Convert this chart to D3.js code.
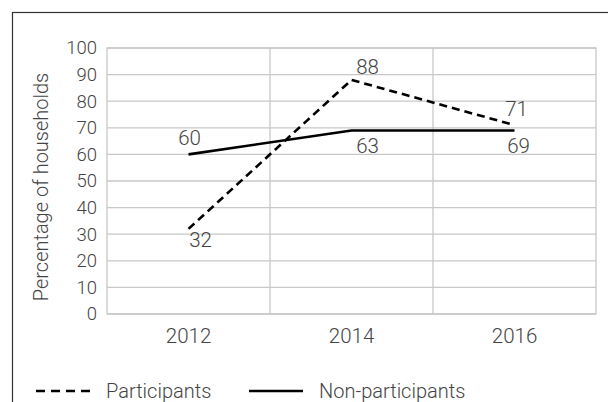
<!DOCTYPE html>
<html>
<head>
<meta charset="utf-8">
<script src="https://cdn.jsdelivr.net/npm/d3@7"></script>
<style>
  body { margin: 0; background: #fff; }
  text { font-family: Roboto, "Liberation Sans", sans-serif; font-weight: 300; fill: #444; }
</style>
</head>
<body>
<svg id="chart"></svg>
<script>
// data
let years = ["2012", "2014", "2016"];
let participants = [32, 88, 71];
let nonParticipants = [60, 69, 69];
let participantLabels = ["32", "88", "71"];
let nonParticipantLabels = ["60", "63", "69"];
let yTicks = d3.range(0, 101, 10);

let width = 608, height = 402;
let plot = { left: 107, right: 596, top: 48, bottom: 314 };

let svg = d3.select("#chart")
    .attr("width", width)
    .attr("height", height);

// outer frame, runs off the page on the right and bottom
svg.append("rect")
    .attr("x", 12.5).attr("y", 12.5)
    .attr("width", 700).attr("height", 500)
    .attr("fill", "none")
    .attr("stroke", "#333")
    .attr("stroke-width", 1.2);

let x = d3.scaleBand()
    .domain(years)
    .range([plot.left, plot.right]);

let y = d3.scaleLinear()
    .domain([0, 100])
    .range([plot.bottom, plot.top]);

// horizontal grid
svg.append("g")
    .selectAll("line")
    .data(yTicks)
    .enter()
    .append("line")
    .attr("x1", plot.left).attr("x2", plot.right)
    .attr("y1", d => y(d)).attr("y2", d => y(d))
    .attr("stroke", "#c8c8c8")
    .attr("stroke-width", 1.3);

// vertical band separators
svg.append("g")
    .selectAll("line")
    .data(years.slice(1))
    .enter()
    .append("line")
    .attr("x1", d => x(d)).attr("x2", d => x(d))
    .attr("y1", plot.top).attr("y2", plot.bottom)
    .attr("stroke", "#c8c8c8")
    .attr("stroke-width", 1.3);

svg.append("rect")
    .attr("x", plot.left).attr("y", plot.top)
    .attr("width", plot.right - plot.left)
    .attr("height", plot.bottom - plot.top)
    .attr("fill", "none")
    .attr("stroke", "#c8c8c8")
    .attr("stroke-width", 1.3);

// axes, only the labels are kept
let yAxis = svg.append("g")
    .attr("transform", "translate(" + plot.left + ",0)")
    .call(d3.axisLeft(y).tickValues(yTicks).tickSize(0).tickPadding(10));
yAxis.select(".domain").remove();
yAxis.selectAll("text")
    .attr("font-size", 18.5)
    .style("font-family", "Roboto, 'Liberation Sans', sans-serif")
    .attr("fill", "#444");

let xAxis = svg.append("g")
    .attr("transform", "translate(0," + plot.bottom + ")")
    .call(d3.axisBottom(x).tickSize(0).tickPadding(14));
xAxis.select(".domain").remove();
xAxis.selectAll("text")
    .attr("font-size", 20.5)
    .style("font-family", "Roboto, 'Liberation Sans', sans-serif")
    .attr("fill", "#444");

svg.append("text")
    .attr("transform", "translate(48,187)rotate(-90)")
    .attr("text-anchor", "middle")
    .attr("font-size", 20)
    .text("Percentage of households");

let line = d3.line()
    .x((d, i) => x(years[i]) + x.bandwidth() / 2)
    .y(d => y(d));

svg.append("path")
    .datum(nonParticipants)
    .attr("d", line)
    .attr("fill", "none")
    .attr("stroke", "#000")
    .attr("stroke-width", 2.6);

svg.append("path")
    .datum(participants)
    .attr("d", line)
    .attr("fill", "none")
    .attr("stroke", "#000")
    .attr("stroke-width", 2.6)
    .attr("stroke-dasharray", "8,5");

// label offsets from each point, as placed in the picture
let pOffsets = [[12, 18], [16, -6], [2, -9]];
let nOffsets = [[1, -9], [16, 23], [4, 23]];

function addLabels(values, labels, offsets) {
    svg.append("g")
        .selectAll("text")
        .data(values)
        .enter()
        .append("text")
        .attr("x", (d, i) => x(years[i]) + x.bandwidth() / 2 + offsets[i][0])
        .attr("y", (d, i) => y(d) + offsets[i][1])
        .attr("text-anchor", "middle")
        .attr("font-size", 20.5)
        .text((d, i) => labels[i]);
}
addLabels(participants, participantLabels, pOffsets);
addLabels(nonParticipants, nonParticipantLabels, nOffsets);

// legend
let legend = [
    { name: "Participants", dash: "9,6", x: 36 },
    { name: "Non-participants", dash: null, x: 249 }
];
let lg = svg.append("g").selectAll("g")
    .data(legend)
    .enter()
    .append("g")
    .attr("transform", d => "translate(" + d.x + ",391)");
lg.append("line")
    .attr("x1", 0).attr("x2", 54)
    .attr("stroke", "#000")
    .attr("stroke-width", 2.6)
    .attr("stroke-dasharray", d => d.dash);
lg.append("text")
    .attr("x", 70)
    .attr("y", 7)
    .attr("font-size", 20)
    .text(d => d.name);
</script>
</body>
</html>
